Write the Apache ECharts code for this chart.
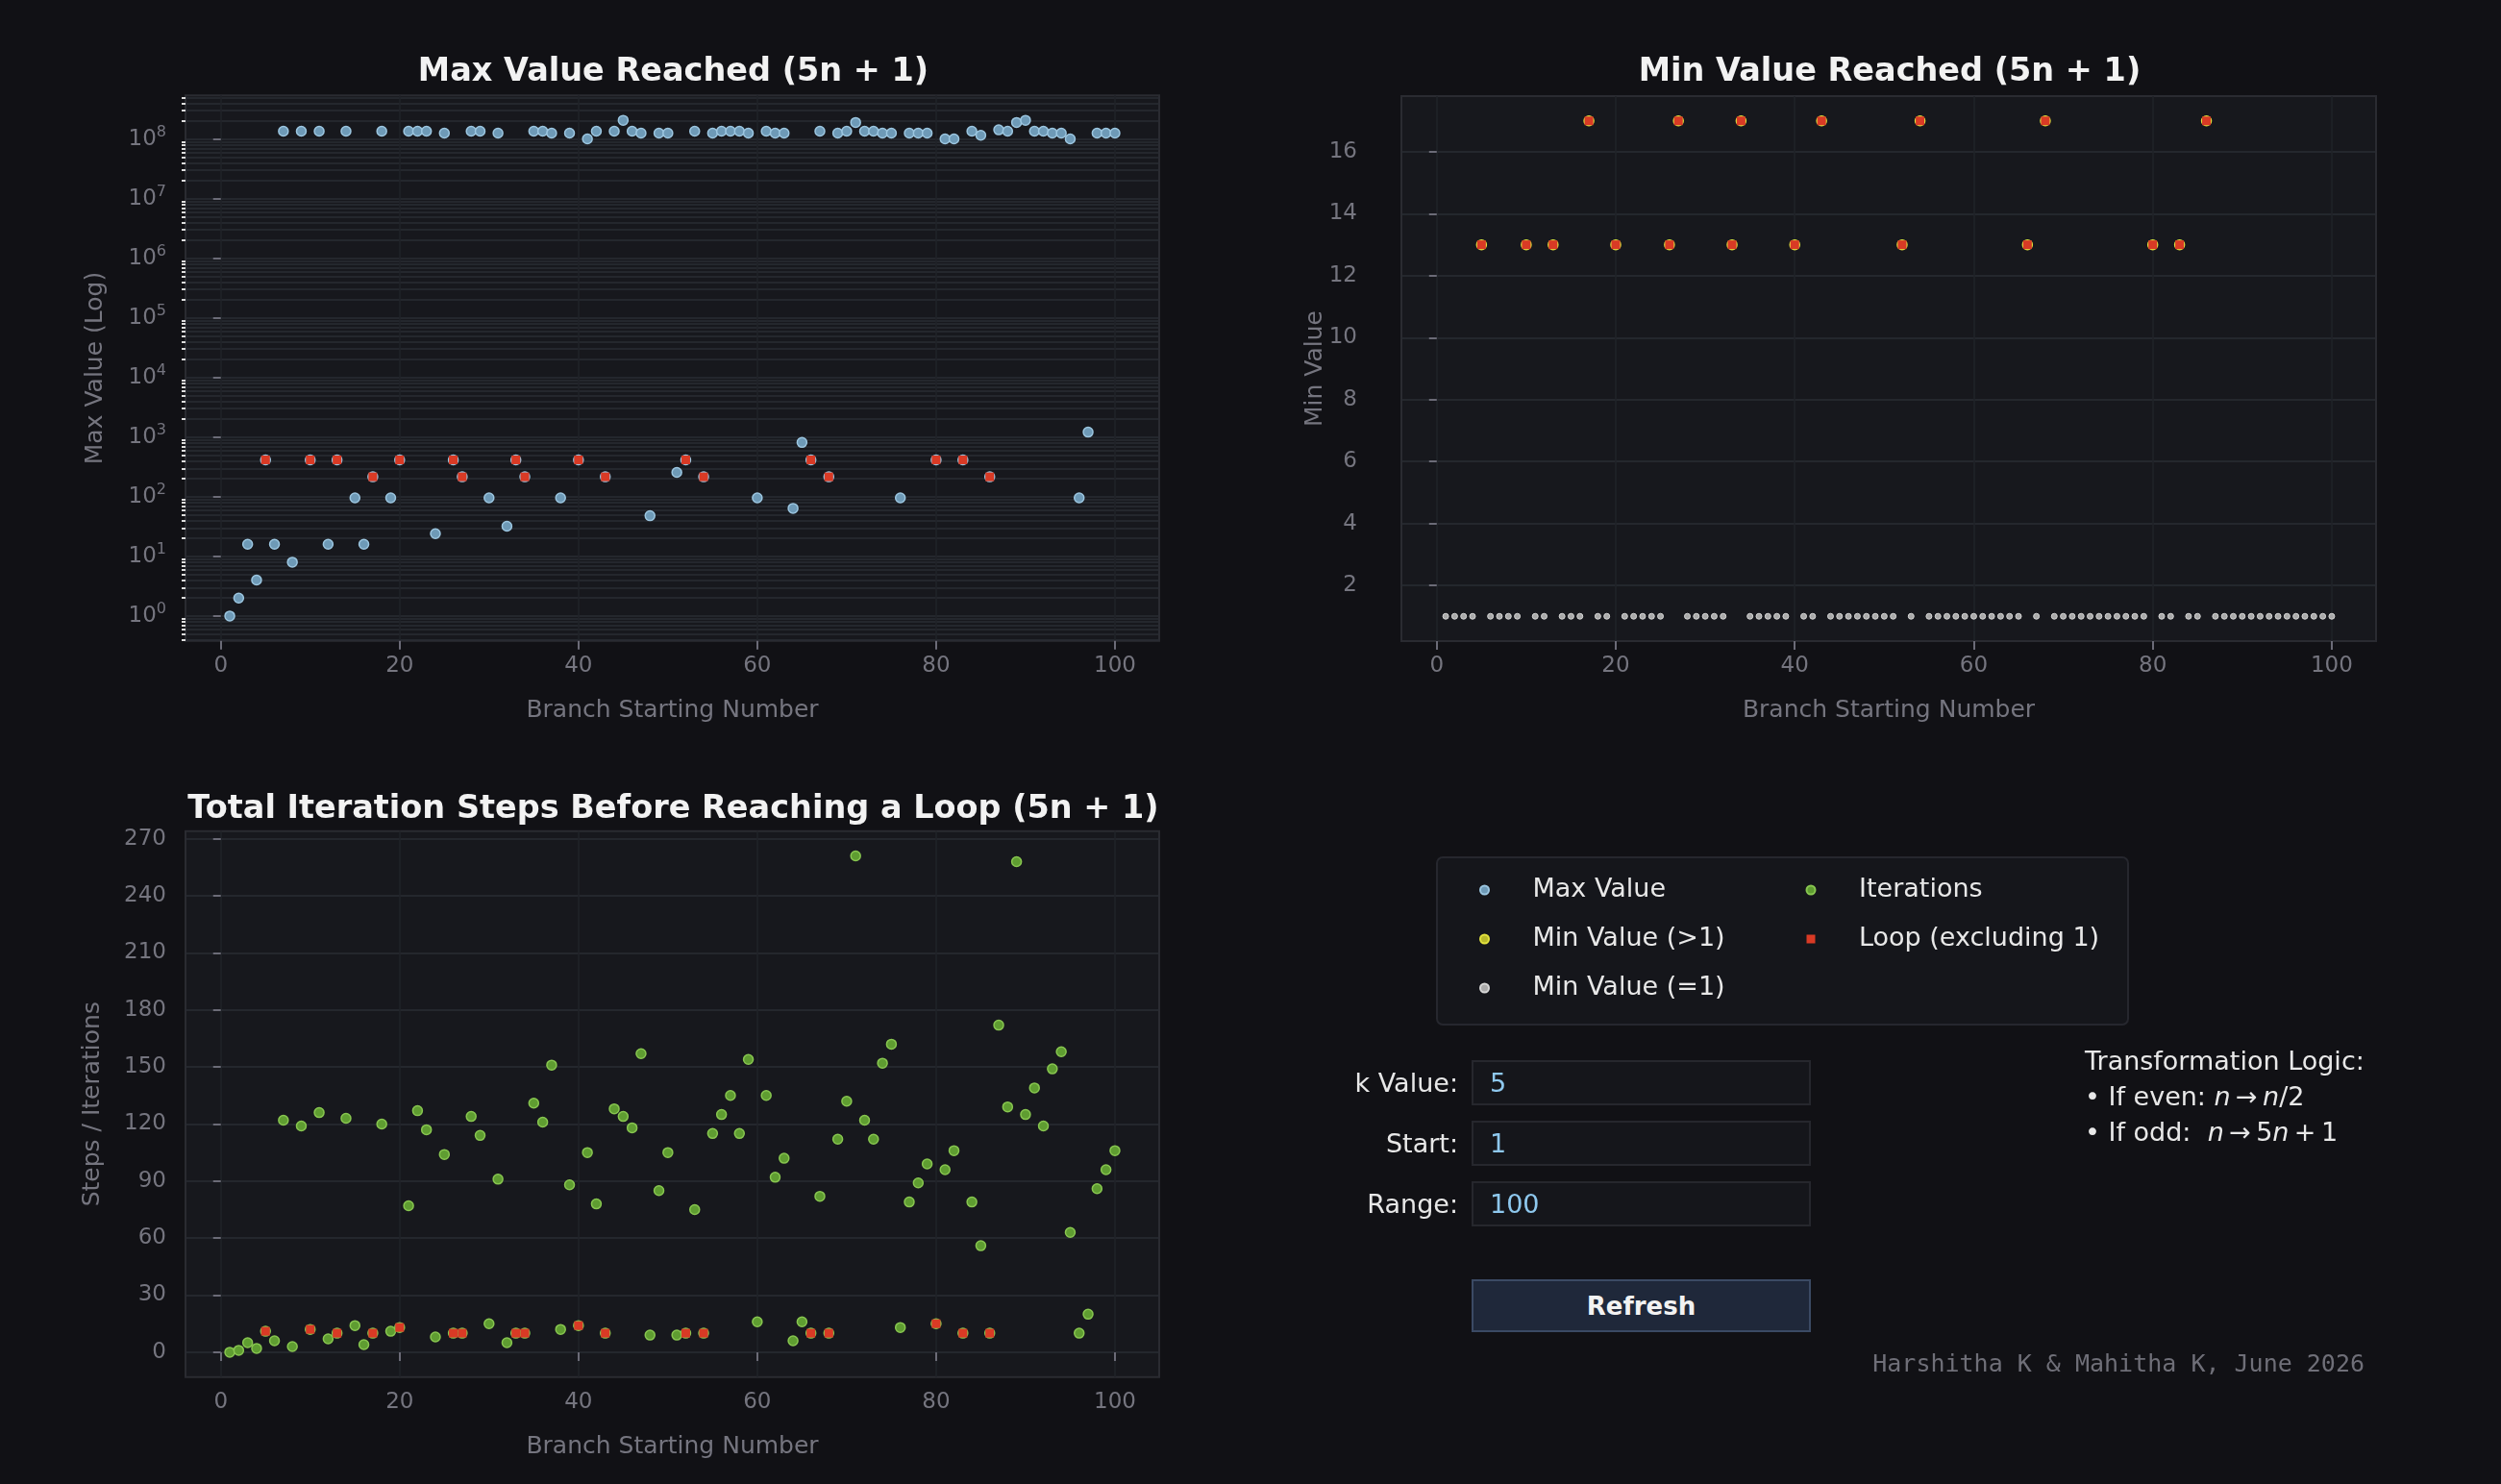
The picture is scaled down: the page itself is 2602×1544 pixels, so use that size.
<!DOCTYPE html>
<html>
<head>
<meta charset="utf-8">
<title>5n + 1 branches</title>
<script src="https://cdn.jsdelivr.net/npm/echarts@6/dist/echarts.min.js"></script>
<style>
  html, body { margin: 0; padding: 0; background: #111115; }
  #main { width: 2602px; height: 1544px; }
  .ui { position: absolute; font-family: "DejaVu Sans", sans-serif; font-size: 27px; color: #e8e8e8; }
  .flabel { left: 1317px; width: 200px; height: 47px; line-height: 47px; text-align: right; }
  .field { left: 1531px; width: 353px; height: 47px; box-sizing: border-box; margin: 0;
           background: #15161b; border: 2px solid #26272d; color: #8ec8ee;
           padding: 0 0 0 17px; outline: none; }
  .btn { left: 1531px; top: 1331px; width: 353px; height: 55px; box-sizing: border-box;
         background: #1f283a; border: 2px solid #3b4a64; color: #f2f2f2;
         font-weight: bold; font-size: 26px; }
  .logic { left: 2169px; top: 1085px; line-height: 37px; }
  .footer { right: 142px; top: 1404px; line-height: 30px; font-family: "DejaVu Sans Mono", monospace;
            font-size: 25px; color: #6f6f78; }
</style>
</head>
<body>
<div id="main"></div>

<div class="ui flabel" style="top:1103px">k Value:</div>
<input class="ui field" style="top:1103px" type="text" value="5">
<div class="ui flabel" style="top:1166px">Start:</div>
<input class="ui field" style="top:1166px" type="text" value="1">
<div class="ui flabel" style="top:1229px">Range:</div>
<input class="ui field" style="top:1229px" type="text" value="100">
<button class="ui btn">Refresh</button>

<div class="ui logic">
  Transformation Logic:<br>
  • If even: <i>n</i>&#8201;→&#8201;<i>n</i>/2<br>
  • If odd:&nbsp; <i>n</i>&#8201;→&#8201;5<i>n</i>&#8201;+&#8201;1
</div>
<div class="ui footer">Harshitha K &amp; Mahitha K, June 2026</div>

<script>
// starting numbers of each branch
var startNumbers = [
  1, 2, 3, 4, 5, 6, 7, 8, 9, 10, 11, 12, 13, 14, 15, 16, 17, 18, 19, 20,
  21, 22, 23, 24, 25, 26, 27, 28, 29, 30, 31, 32, 33, 34, 35, 36, 37, 38, 39, 40,
  41, 42, 43, 44, 45, 46, 47, 48, 49, 50, 51, 52, 53, 54, 55, 56, 57, 58, 59, 60,
  61, 62, 63, 64, 65, 66, 67, 68, 69, 70, 71, 72, 73, 74, 75, 76, 77, 78, 79, 80,
  81, 82, 83, 84, 85, 86, 87, 88, 89, 90, 91, 92, 93, 94, 95, 96, 97, 98, 99, 100
];

// largest value seen on each branch
var maxValues = [
  1, 2, 16, 4, 416, 16, 1.36e8, 8, 1.36e8, 416,
  1.36e8, 16, 416, 1.36e8, 96, 16, 216, 1.36e8, 96, 416,
  1.36e8, 1.36e8, 1.36e8, 24, 1.26e8, 416, 216, 1.36e8, 1.36e8, 96,
  1.26e8, 32, 416, 216, 1.36e8, 1.36e8, 1.26e8, 96, 1.26e8, 416,
  1.01e8, 1.36e8, 216, 1.36e8, 2.07e8, 1.36e8, 1.26e8, 48, 1.26e8, 1.26e8,
  256, 416, 1.36e8, 216, 1.26e8, 1.36e8, 1.36e8, 1.36e8, 1.26e8, 96,
  1.36e8, 1.26e8, 1.26e8, 64, 816, 416, 1.36e8, 216, 1.26e8, 1.36e8,
  1.9e8, 1.36e8, 1.36e8, 1.26e8, 1.26e8, 96, 1.26e8, 1.26e8, 1.26e8, 416,
  1.01e8, 1.01e8, 416, 1.36e8, 1.16e8, 216, 1.43e8, 1.36e8, 1.9e8, 2.07e8,
  1.36e8, 1.36e8, 1.26e8, 1.26e8, 1.01e8, 96, 1216, 1.26e8, 1.26e8, 1.26e8
];

// smallest value seen on each branch
var minValues = [
  1, 1, 1, 1, 13, 1, 1, 1, 1, 13,
  1, 1, 13, 1, 1, 1, 17, 1, 1, 13,
  1, 1, 1, 1, 1, 13, 17, 1, 1, 1,
  1, 1, 13, 17, 1, 1, 1, 1, 1, 13,
  1, 1, 17, 1, 1, 1, 1, 1, 1, 1,
  1, 13, 1, 17, 1, 1, 1, 1, 1, 1,
  1, 1, 1, 1, 1, 13, 1, 17, 1, 1,
  1, 1, 1, 1, 1, 1, 1, 1, 1, 13,
  1, 1, 13, 1, 1, 17, 1, 1, 1, 1,
  1, 1, 1, 1, 1, 1, 1, 1, 1, 1
];

// steps taken before a loop is hit
var iterationSteps = [
  0, 1, 5, 2, 11, 6, 122, 3, 119, 12,
  126, 7, 10, 123, 14, 4, 10, 120, 11, 13,
  77, 127, 117, 8, 104, 10, 10, 124, 114, 15,
  91, 5, 10, 10, 131, 121, 151, 12, 88, 14,
  105, 78, 10, 128, 124, 118, 157, 9, 85, 105,
  9, 10, 75, 10, 115, 125, 135, 115, 154, 16,
  135, 92, 102, 6, 16, 10, 82, 10, 112, 132,
  261, 122, 112, 152, 162, 13, 79, 89, 99, 15,
  96, 106, 10, 79, 56, 10, 172, 129, 258, 125,
  139, 119, 149, 158, 63, 10, 20, 86, 96, 106
];

// branches that end in a loop other than the one through 1
var loopNumbers = [5, 10, 13, 17, 20, 26, 27, 33, 34, 40, 43, 52, 54, 66, 68, 80, 83, 86];

// tick labels
var xTicks = [0, 20, 40, 60, 80, 100];
var maxTicks = [1, 1e1, 1e2, 1e3, 1e4, 1e5, 1e6, 1e7, 1e8];
var minTicks = [2, 4, 6, 8, 10, 12, 14, 16];
var stepTicks = [0, 30, 60, 90, 120, 150, 180, 210, 240, 270];
var logMinorSteps = [2, 3, 4, 5, 6, 7, 8, 9];

var maxMinorTicks = [];
for (var d = 0.1; d <= 1e8; d *= 10) {
  logMinorSteps.forEach(function (m) { maxMinorTicks.push(Number((m * d).toPrecision(2))); });
}

function pairs(values, keep) {
  var out = [];
  startNumbers.forEach(function (n, i) {
    if (keep(n, i)) out.push([n, values[i]]);
  });
  return out;
}
function isLoop(n) { return loopNumbers.indexOf(n) >= 0; }

var font = 'DejaVu Sans';
var labelGray = '#75757f';
var tickGray = '#6b6b77';
var gridLine = '#2a2c33';
var vGridLine = '#212329';
var squareIcon = 'path://M0,0H10V10H0Z';

var chart = echarts.init(document.getElementById('main'));

function plotGrid(left, top, width, height) {
  return {
    left: left, top: top, width: width, height: height,
    show: true, backgroundColor: '#17181d', borderColor: '#2a2b31', borderWidth: 2,
    outerBoundsMode: 'none'
  };
}

function xAxisFor(gridIndex) {
  return {
    type: 'value', gridIndex: gridIndex, min: -3.95, max: 104.95,
    name: 'Branch Starting Number', nameLocation: 'middle', nameGap: 60, nameMoveOverlap: false,
    nameTextStyle: { color: labelGray, fontSize: 25, fontFamily: font },
    axisLine: { show: false },
    axisTick: { show: true, length: 9, customValues: xTicks, lineStyle: { color: tickGray, width: 2 } },
    axisLabel: { customValues: xTicks, color: labelGray, fontSize: 23, fontFamily: font, margin: 15 },
    splitLine: { show: true, lineStyle: { color: vGridLine, width: 1.5 } }
  };
}

function yAxisFor(gridIndex, extra) {
  var axis = {
    gridIndex: gridIndex, position: 'left', nameLocation: 'middle', nameRotate: 90,
    nameMoveOverlap: false,
    nameTextStyle: { color: labelGray, fontSize: 25, fontFamily: font },
    axisLine: { show: false },
    axisTick: { show: true, length: 8, lineStyle: { color: tickGray, width: 2 } },
    axisLabel: { color: labelGray, fontSize: 23, fontFamily: font, margin: 20 },
    splitLine: { show: true, lineStyle: { color: gridLine, width: 1.5 } }
  };
  return echarts.util.merge(axis, extra, true);
}

var loopStyle = { color: '#d93a25', opacity: 1 };
var titleStyle = { color: '#f2f2f2', fontSize: 33.5, fontWeight: 'bold', fontFamily: font };
var legendText = { color: '#e8e8e8', fontSize: 27, lineHeight: 30, fontFamily: font };

var option = {
  backgroundColor: '#111115',
  animation: false,
  textStyle: { fontFamily: font },
  title: [
    { text: 'Max Value Reached (5n + 1)', left: 695.5, top: 53, textAlign: 'center', textStyle: titleStyle },
    { text: 'Min Value Reached (5n + 1)', left: 1961, top: 53, textAlign: 'center', textStyle: titleStyle },
    { text: 'Total Iteration Steps Before Reaching a Loop (5n + 1)', left: 695.5, top: 820,
      textAlign: 'center', textStyle: titleStyle }
  ],
  graphic: [
    { type: 'rect', left: 1494, top: 891, z: 0,
      shape: { width: 719, height: 174, r: 6 },
      style: { fill: '#15161b', stroke: '#26272e', lineWidth: 2 } }
  ],
  legend: [
    { data: [
        { name: 'Max Value', icon: 'circle' },
        { name: 'Min Value (>1)', icon: 'circle' },
        { name: 'Min Value (=1)', icon: 'circle' }
      ],
      orient: 'vertical', left: 1539, top: 911, padding: 0,
      itemWidth: 90, itemHeight: 9, itemGap: 21, textStyle: legendText },
    { data: [
        { name: 'Iterations', icon: 'circle' },
        { name: 'Loop (excluding 1)', icon: squareIcon }
      ],
      orient: 'vertical', left: 1878.5, top: 911, padding: 0,
      itemWidth: 90, itemHeight: 9, itemGap: 21, textStyle: legendText }
  ],
  grid: [
    plotGrid(193, 99.3, 1013, 567.4),
    plotGrid(1458, 100, 1014, 567),
    plotGrid(193, 864.7, 1013, 568)
  ],
  xAxis: [xAxisFor(0), xAxisFor(1), xAxisFor(2)],
  yAxis: [
    yAxisFor(0, {
      type: 'log', logBase: 10, min: 0.3837, max: 5.4e8,
      name: 'Max Value (Log)', nameGap: 81,
      axisTick: { customValues: maxTicks },
      axisLabel: {
        customValues: maxTicks,
        formatter: function (v) { return '{b|10}{s|' + Math.round(Math.log10(v)) + '}'; },
        rich: {
          b: { fontSize: 23, lineHeight: 30, color: labelGray, fontFamily: font },
          s: { fontSize: 16, lineHeight: 16, verticalAlign: 'top', color: labelGray, fontFamily: font }
        }
      }
    }),
    yAxisFor(0, {
      type: 'log', logBase: 10, min: 0.3837, max: 5.4e8,
      axisTick: { customValues: maxMinorTicks, length: 4, lineStyle: { color: '#dcdcdc', width: 2 } },
      axisLabel: { show: false },
      splitLine: { lineStyle: { color: gridLine, width: 1.5 } }
    }),
    yAxisFor(1, {
      type: 'value', min: 0.2, max: 17.8, name: 'Min Value', nameGap: 77,
      axisTick: { customValues: minTicks },
      axisLabel: { customValues: minTicks, margin: 46 }
    }),
    yAxisFor(2, {
      type: 'value', min: -13.05, max: 274.05, name: 'Steps / Iterations', nameGap: 84,
      axisTick: { customValues: stepTicks },
      axisLabel: { customValues: stepTicks }
    })
  ],
  series: [
    {
      name: 'Max Value', type: 'scatter', xAxisIndex: 0, yAxisIndex: 0,
      symbol: 'circle', symbolSize: 10,
      itemStyle: { color: '#6e9ab7', borderColor: '#9cc6e0', borderWidth: 1.5, opacity: 1 },
      data: pairs(maxValues, function () { return true; })
    },
    {
      name: 'Loop (excluding 1)', type: 'scatter', xAxisIndex: 0, yAxisIndex: 0,
      symbol: 'rect', symbolSize: 9, itemStyle: loopStyle,
      data: pairs(maxValues, isLoop)
    },
    {
      name: 'Min Value (>1)', type: 'scatter', xAxisIndex: 1, yAxisIndex: 2,
      symbol: 'circle', symbolSize: 10,
      itemStyle: { color: '#b9b92a', borderColor: '#e2e23e', borderWidth: 1.5, opacity: 1 },
      data: pairs(minValues, function (n, i) { return minValues[i] > 1; })
    },
    {
      name: 'Min Value (=1)', type: 'scatter', xAxisIndex: 1, yAxisIndex: 2,
      symbol: 'circle', symbolSize: 6,
      itemStyle: { color: '#a9a9a9', borderColor: '#d6d6d6', borderWidth: 1, opacity: 1 },
      data: pairs(minValues, function (n, i) { return minValues[i] === 1; })
    },
    {
      name: 'Loop (excluding 1)', type: 'scatter', xAxisIndex: 1, yAxisIndex: 2,
      symbol: 'rect', symbolSize: 9, itemStyle: loopStyle,
      data: pairs(minValues, isLoop)
    },
    {
      name: 'Iterations', type: 'scatter', xAxisIndex: 2, yAxisIndex: 3,
      symbol: 'circle', symbolSize: 10,
      itemStyle: { color: '#5f9d31', borderColor: '#88c650', borderWidth: 1.5, opacity: 1 },
      data: pairs(iterationSteps, function () { return true; })
    },
    {
      name: 'Loop (excluding 1)', type: 'scatter', xAxisIndex: 2, yAxisIndex: 3,
      symbol: 'rect', symbolSize: 9, itemStyle: loopStyle,
      data: pairs(iterationSteps, isLoop)
    }
  ]
};

chart.setOption(option);
</script>
</body>
</html>
